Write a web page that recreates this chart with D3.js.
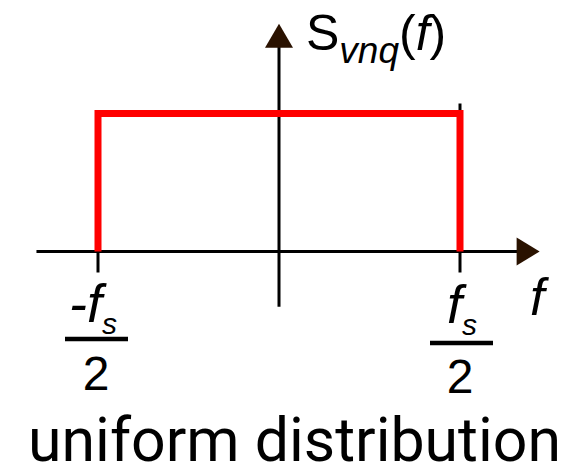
<!DOCTYPE html>
<html>
<head>
<meta charset="utf-8">
<script src="https://cdn.jsdelivr.net/npm/d3@7"></script>
<style>
  html, body { margin: 0; padding: 0; background: #fff; }
  svg { display: block; }
</style>
</head>
<body>
<svg id="chart" width="583" height="467"></svg>
<script>
// band edges of the quantisation noise spectrum, in units of fs
const bandEdges = [-0.5, 0.5]
// flat PSD level inside the band
const psdLevel = 1
// axis extents (same units)
const xAxisExtent = [-0.67, 0.72]
const yAxisExtent = [-0.4, 1.65]
const tickLabels = [
  {value: -0.5, num: '-f', sub: 's', den: '2'},
  {value: 0.5, num: 'f', sub: 's', den: '2'}
]

const svg = d3.select('#chart')

const xScale = d3.scaleLinear()
  .domain([-0.5, 0.5])
  .range([98, 460])

const yScale = d3.scaleLinear()
  .domain([0, 1])
  .range([251.5, 113.5])

const spectrum = [
  {f: bandEdges[0], s: 0},
  {f: bandEdges[0], s: psdLevel},
  {f: bandEdges[1], s: psdLevel},
  {f: bandEdges[1], s: 0}
]

const axisColor = '#000'
const arrowColor = '#2a1200'

// x axis
svg.append('line')
  .attr('x1', xScale(xAxisExtent[0]))
  .attr('x2', xScale(xAxisExtent[1]) - 20)
  .attr('y1', yScale(0))
  .attr('y2', yScale(0))
  .attr('stroke', axisColor)
  .attr('stroke-width', 3)

const xEnd = xScale(xAxisExtent[1])
svg.append('path')
  .attr('d', `M${xEnd},${yScale(0)} L${xEnd - 23},${yScale(0) - 14} L${xEnd - 23},${yScale(0) + 14} Z`)
  .attr('fill', arrowColor)

// y axis
const yTop = yScale(yAxisExtent[1])
svg.append('line')
  .attr('x1', xScale(0))
  .attr('x2', xScale(0))
  .attr('y1', yScale(yAxisExtent[0]))
  .attr('y2', yTop + 20)
  .attr('stroke', axisColor)
  .attr('stroke-width', 3)

svg.append('path')
  .attr('d', `M${xScale(0)},${yTop} L${xScale(0) - 14},${yTop + 24} L${xScale(0) + 14},${yTop + 24} Z`)
  .attr('fill', arrowColor)

// ticks below the axis
svg.selectAll('.tick')
  .data(tickLabels)
  .enter().append('line')
  .attr('class', 'tick')
  .attr('x1', d => xScale(d.value))
  .attr('x2', d => xScale(d.value))
  .attr('y1', yScale(0))
  .attr('y2', yScale(0) + 21)
  .attr('stroke', axisColor)
  .attr('stroke-width', 3)

// small mark above right edge
svg.append('line')
  .attr('x1', xScale(0.5))
  .attr('x2', xScale(0.5))
  .attr('y1', yScale(1) - 10)
  .attr('y2', yScale(1))
  .attr('stroke', axisColor)
  .attr('stroke-width', 3)

// the spectrum
const line = d3.line()
  .x(d => xScale(d.f))
  .y(d => yScale(d.s))

svg.append('path')
  .datum(spectrum)
  .attr('fill', 'none')
  .attr('stroke', '#ff0000')
  .attr('stroke-width', 7)
  .attr('stroke-linejoin', 'miter')
  .attr('d', line)

const font = '"Liberation Sans", Arial, sans-serif'

// tick fraction labels
const lbl = svg.selectAll('.lbl')
  .data(tickLabels)
  .enter().append('g')
  .attr('class', 'lbl')
  .attr('transform', d => `translate(${xScale(d.value)},0)`)

const numText = lbl.append('text')
  .attr('x', (d, i) => i === 0 ? -5 : 2)
  .attr('y', (d, i) => i === 0 ? 322 : 323)
  .attr('text-anchor', 'middle')
  .attr('font-family', font)
  .attr('font-size', 54)
  .attr('fill', '#000')
numText.append('tspan')
  .attr('font-style', 'italic')
  .text(d => d.num)
numText.append('tspan')
  .attr('font-style', 'italic')
  .attr('font-size', 30)
  .attr('dy', 12)
  .text(d => d.sub)

lbl.append('line')
  .attr('x1', (d, i) => i === 0 ? -33 : -30)
  .attr('x2', (d, i) => i === 0 ? 30 : 33)
  .attr('y1', (d, i) => i === 0 ? 339 : 343)
  .attr('y2', (d, i) => i === 0 ? 339 : 343)
  .attr('stroke', '#000')
  .attr('stroke-width', 4.5)

lbl.append('text')
  .attr('x', (d, i) => i === 0 ? -2 : 0)
  .attr('y', (d, i) => i === 0 ? 390 : 393)
  .attr('text-anchor', 'middle')
  .attr('font-family', font)
  .attr('font-size', 48)
  .attr('fill', '#000')
  .text(d => d.den)

// axis names
svg.append('text')
  .attr('x', 530)
  .attr('y', 315)
  .attr('font-family', font)
  .attr('font-style', 'italic')
  .attr('font-size', 52)
  .attr('fill', '#000')
  .text('f')

const yName = svg.append('text')
  .attr('x', 306)
  .attr('y', 50)
  .attr('font-family', font)
  .attr('font-size', 50)
  .attr('fill', '#000')
yName.append('tspan').text('S')
yName.append('tspan')
  .attr('font-style', 'italic')
  .attr('font-size', 37)
  .attr('dy', 13)
  .text('vnq')
yName.append('tspan')
  .attr('dy', -13)
  .text('(')
yName.append('tspan')
  .attr('font-style', 'italic')
  .text('f')
yName.append('tspan')
  .text(')')

// caption
svg.append('text')
  .attr('x', 28)
  .attr('y', 461)
  .attr('font-family', 'Roboto, sans-serif')
  .attr('font-size', 62)
  .attr('textLength', 533)
  .attr('lengthAdjust', 'spacingAndGlyphs')
  .attr('fill', '#000')
  .text('uniform distribution')
</script>
</body>
</html>
